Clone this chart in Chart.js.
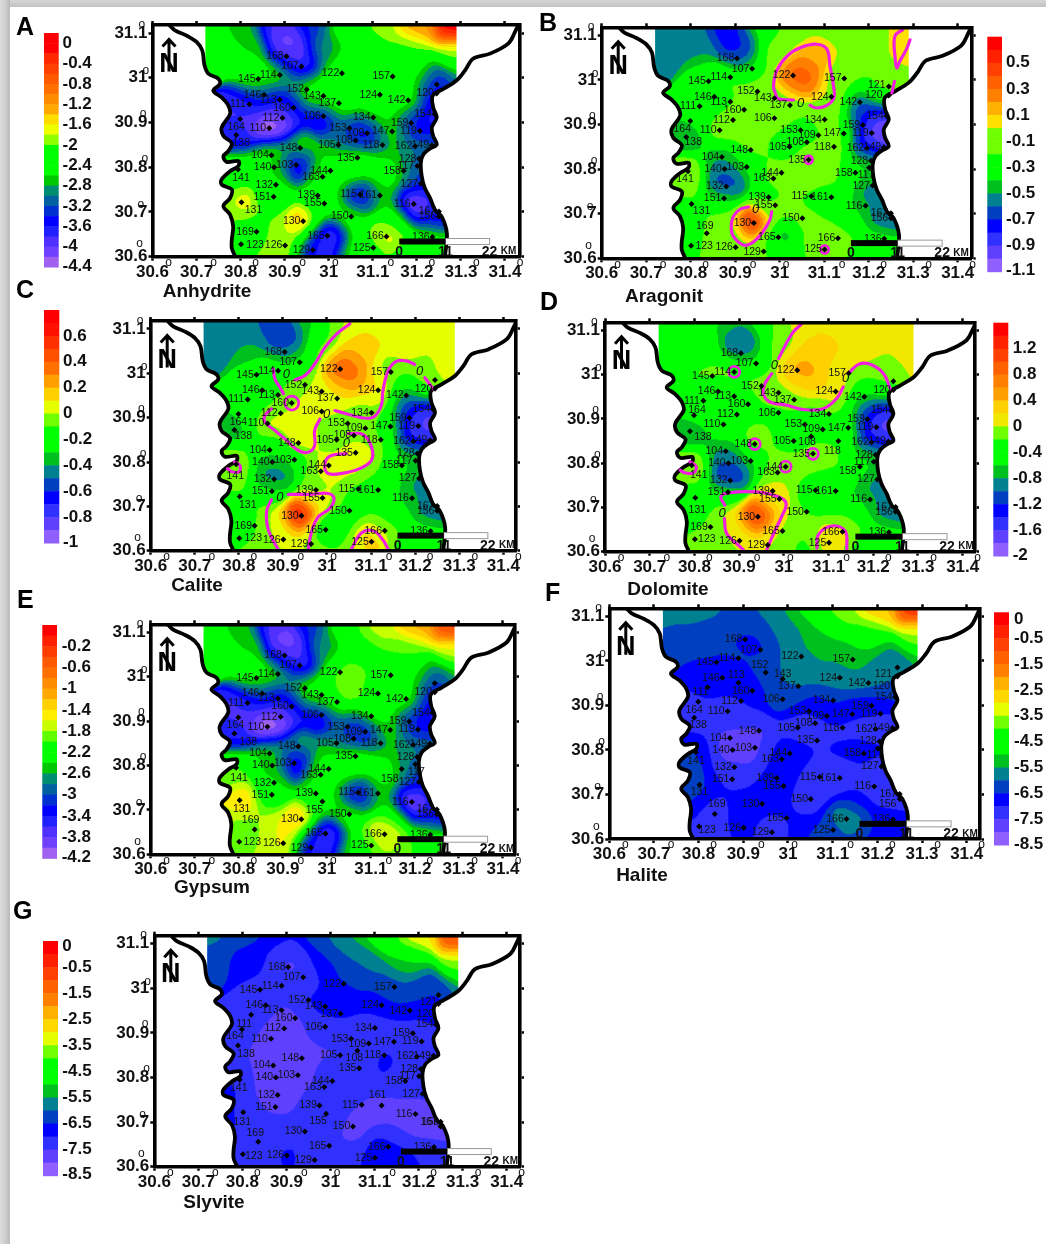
<!DOCTYPE html>
<html><head><meta charset="utf-8">
<script src="https://cdn.jsdelivr.net/npm/chart.js@4"></script>
<style>
html,body{margin:0;padding:0;background:#fff;width:1046px;height:1244px;overflow:hidden}
#top{position:absolute;left:0;top:0;width:1046px;height:7px;background:linear-gradient(to bottom,#d6d6d6,#c2c2c2)}
#left{position:absolute;left:0;top:0;width:10px;height:1244px;background:linear-gradient(to right,#dcdcdc,#cfcfcf 50%,#b9b9b9)}
canvas{position:absolute;left:0;top:0;filter:blur(.35px)}
</style></head><body><div id="top"></div><div id="left"></div>
<script>
// ---------- wells ----------
const wellIds=[168,107,122,157,145,114,152,143,137,124,142,121,120,
146,113,160,111,164,112,110,138,106,134,159,154,119,
153,109,147,108,105,118,162,149,148,104,135,128,117,
103,140,141,144,163,158,132,127,115,161,151,139,155,
131,116,167,156,150,130,169,165,166,136,123,126,129,125];
const wellX=[30.904,30.938,31.03,31.145,30.84,30.889,30.95,30.988,31.023,31.116,31.18,31.245,31.245,
30.853,30.889,30.92,30.82,30.799,30.895,30.865,30.79,30.988,31.101,31.187,31.24,31.207,
31.047,31.087,31.144,31.061,31.022,31.122,31.196,31.234,30.935,30.87,31.065,31.205,31.201,
30.926,30.876,30.794,31.004,30.986,31.17,30.88,31.209,31.071,31.116,30.875,30.975,30.99,
30.802,31.193,31.25,31.25,31.051,30.942,30.836,30.997,31.131,31.235,30.801,30.901,30.964,31.101];
const wellY=[31.048,31.025,31.01,31.003,30.997,31.006,30.974,30.959,30.943,30.962,30.95,30.985,30.965,
30.962,30.951,30.933,30.941,30.908,30.91,30.887,30.872,30.914,30.911,30.899,30.919,30.881,
30.887,30.876,30.88,30.86,30.85,30.85,30.847,30.849,30.843,30.827,30.821,30.819,30.803,
30.805,30.8,30.795,30.792,30.779,30.792,30.761,30.763,30.739,30.737,30.734,30.737,30.719,
30.722,30.718,30.701,30.69,30.69,30.679,30.656,30.647,30.645,30.644,30.628,30.625,30.615,30.62];
// extra control readings where no well exists (north edge, south edge, gaps)
const extraX=[30.72,30.80,30.88,30.96,31.04,31.12,31.20,31.29,30.74,30.82,30.91,30.99,31.08,31.18,31.29,31.29,30.86,30.99,31.05,31.18,31.26,31.05,31.21,30.88,31.05,31.12,30.78,31.15,30.76,30.76];
const extraY=[31.12,31.12,31.12,31.12,31.12,31.12,31.12,31.12,31.06,31.06,31.08,31.06,31.06,31.06,31.05,30.99,30.60,30.60,30.60,30.60,30.61,31.00,31.00,30.66,30.78,30.79,30.67,30.68,30.77,30.71];
// ---------- coast ----------
const westX=[30.640,30.651,30.678,30.700,30.713,30.718,30.727,30.749,30.753,30.738,30.757,30.772,30.776,30.757,30.761,30.780,30.772,30.761,30.768,30.795,30.795,30.776,30.757,30.757,30.780,30.776,30.761,30.776,30.783,30.780,30.780,30.787];
const westY=[31.116,31.106,31.094,31.080,31.061,31.028,31.009,30.998,30.986,30.971,30.956,30.938,30.919,30.889,30.870,30.854,30.836,30.825,30.812,30.814,30.803,30.791,30.773,30.761,30.750,30.731,30.713,30.694,30.668,30.638,30.619,30.602];
const eastX=[31.264,31.268,31.256,31.241,31.230,31.218,31.211,31.209,31.215,31.230,31.245,31.237,31.234,31.245,31.237,31.236,31.260,31.290,31.309,31.328,31.366,31.408,31.423,31.430];
const eastY=[30.602,30.653,30.690,30.705,30.731,30.754,30.780,30.810,30.829,30.842,30.851,30.870,30.889,30.911,30.934,30.960,30.975,30.994,31.016,31.043,31.054,31.077,31.103,31.118];
// ---------- mineral saturation values at wells ----------
const anhydriteValues=[-3.9,-4.0,-2.3,-2.3,-2.1,-2.3,-2.3,-2.3,-2.1,-2.3,-2.3,-3.5,-3.8,
-3.3,-3.7,-3.3,-3.7,-3.9,-4.3,-4.5,-3.6,-3.9,-2.3,-3.2,-3.7,-4.0,
-3.0,-4.1,-2.4,-3.8,-2.8,-2.9,-2.8,-3.1,-2.4,-2.3,-1.7,-2.7,-3.7,
-4.1,-2.7,-2.3,-2.4,-2.5,-2.4,-2.4,-3.4,-4.0,-2.6,-2.3,-2.4,-2.4,
-1.6,-4.3,-3.7,-3.6,-2.3,-1.3,-2.2,-4.0,-1.4,-2.3,-2.2,-1.8,-3.3,-2.3];
const anhydriteExtra=[-2.3,-2.7,-3.8,-3.3,-2.3,-1.9,-1.2,0,-2.3,-2.6,-4.2,-2.9,-2.3,-2.1,-1.9,-2.9,-1.9,-4.0,-2.4,-2.3,-2.3,-2.3,-2.4,-1.9,-2.4,-2.3,-2.1,-2.3,-2.3,-1.9];
const aragonitValues=[-.8,-.3,.35,-.1,-.15,-.1,-.1,-.05,-.1,0,-.65,-.05,-.3,
-.35,-.25,-.1,-.3,-.35,-.1,-.1,-.55,-.1,-.1,-.65,-.95,-1.15,
-.3,-.25,-.15,-.2,-.35,-.1,-.85,-1.0,-.1,-.45,.02,-.3,-.35,
-.4,-.6,-.05,-.15,-.15,-.3,-.85,-.65,-.25,-.25,-.2,-.35,-.1,
-.2,-.45,-.65,-.62,-.15,.6,-.2,-.55,-.1,-.3,-.2,-.1,-.1,.03];
const aragonitExtra=[-.55,-.55,-.75,-.3,-.12,-.1,-.1,.1,-.55,-.52,-.72,-.12,.15,-.1,.05,-.1,-.2,-.25,-.25,-.3,-.3,.35,-.2,-.1,-.1,-.15,-.3,-.3,-.1,-.3];
const caliteValues=[-.55,-.2,.42,-.05,-.2,-.1,-.02,.05,.1,.15,-.45,.03,-.1,
-.25,-.15,.04,-.2,-.3,.02,.03,-.35,0,-.02,-.6,-.85,-.95,
-.08,-.1,-.25,-.05,-.1,-.05,-.8,-.8,.15,-.2,.2,-.25,-.3,
-.3,-.4,.02,.05,.02,-.2,-.6,-.5,-.15,-.15,-.1,-.1,.08,
-.1,-.35,-.5,-.5,-.15,.7,-.15,-.4,-.02,-.2,-.1,.02,.02,.2];
const caliteExtra=[-.45,-.45,-.55,-.3,0,.05,.05,.05,-.45,-.4,-.6,-.1,.15,.05,.05,.1,-.05,-.05,-.05,-.2,-.2,.3,-.05,.05,.03,-.1,-.15,-.2,-.05,-.15];
const dolomiteValues=[-1.1,-.4,.5,0,-.1,.03,-.05,-.1,-.05,.2,-.7,-.1,-.3,
-.5,-.4,-.3,-.3,-.4,-.3,-.35,-.9,-.3,-.2,-1.0,-1.6,-2.1,
-.4,-.3,-.3,-.3,-.5,-.2,-1.3,-1.6,.05,-.7,.1,-.5,-.5,
-.7,-1.15,.1,.05,-.1,-.4,-1.6,-1.05,-.7,-.6,-.1,.05,.1,
-.35,-.7,-1.0,-1.0,-.15,1.3,-.2,-.1,.1,-.4,-.1,0,.1,.15];
const dolomiteExtra=[-.35,-.35,-.65,-.2,.05,.1,.1,.1,-.35,-.4,-1.05,-.1,.3,.1,.1,.1,-.05,-.15,-.3,-.4,-.4,.4,-.1,.1,-.1,-.15,-.35,-.3,-.2,-.3];
const gypsumValues=[-3.6,-3.8,-2.0,-2.1,-1.95,-2.2,-2.1,-2.2,-1.8,-2.1,-2.1,-3.1,-3.4,
-3.0,-3.5,-3.2,-3.6,-3.7,-4.1,-4.3,-3.4,-3.7,-1.8,-3.0,-3.5,-3.7,
-2.9,-3.8,-2.2,-3.5,-2.6,-2.7,-2.6,-2.9,-2.5,-2.3,-1.6,-2.4,-3.5,
-3.9,-2.5,-2.0,-2.2,-2.3,-2.3,-2.3,-3.2,-3.8,-2.4,-2.2,-2.3,-2.3,
-1.3,-4.1,-3.5,-3.4,-2.1,-1.2,-1.9,-3.8,-1.3,-2.1,-2.0,-1.5,-3.2,-2.1];
const gypsumExtra=[-2.1,-2.5,-3.6,-3.1,-2.1,-1.7,-1.1,-.3,-2.1,-2.4,-4.1,-2.7,-2.1,-2.0,-1.7,-2.6,-1.7,-3.8,-2.3,-2.0,-2.1,-1.9,-2.2,-1.6,-2.2,-2.1,-1.9,-2.1,-2.0,-1.6];
const haliteValues=[-6.6,-6.6,-5.6,-5.3,-6.5,-6.4,-6.2,-5.9,-6.0,-5.7,-5.7,-6.0,-6.0,
-6.8,-6.8,-6.8,-6.8,-7.1,-7.0,-7.4,-7.2,-6.2,-6.2,-6.8,-6.3,-7.0,
-6.8,-6.9,-7.0,-7.3,-7.4,-7.1,-7.3,-7.4,-7.5,-7.5,-7.0,-6.9,-6.9,
-7.6,-7.7,-6.7,-6.5,-6.9,-6.9,-7.6,-7.2,-7.4,-7.4,-6.9,-6.9,-6.9,
-6.5,-7.3,-7.4,-7.1,-7.3,-6.8,-7.4,-6.9,-5.0,-6.7,-7.2,-6.8,-7.4,-6.6];
const haliteExtra=[-5.7,-5.8,-6.0,-5.7,-4.9,-3.7,-2.5,-.5,-6.1,-6.2,-6.4,-5.8,-5.0,-4.3,-3.6,-5.3,-7.1,-7.0,-6.4,-6.6,-6.7,-5.5,-5.6,-6.8,-7.0,-6.9,-6.7,-6.8,-5.9,-5.9];
const slyviteValues=[-7.6,-7.5,-6.5,-6.1,-7.1,-7.3,-6.9,-6.8,-6.9,-6.7,-6.6,-6.4,-6.9,
-7.3,-7.6,-7.6,-7.3,-7.3,-7.7,-7.7,-7.5,-7.3,-7.3,-7.4,-6.8,-7.6,
-7.4,-7.5,-7.4,-7.4,-7.6,-6.6,-7.4,-7.5,-7.7,-7.8,-7.3,-7.3,-7.3,
-7.6,-8.1,-7.2,-6.9,-7.7,-7.4,-7.9,-7.4,-7.5,-7.8,-7.4,-7.2,-6.8,
-7.2,-7.8,-7.8,-7.7,-7.7,-7.3,-7.3,-7.4,-6.6,-7.3,-7.4,-6.7,-7.6,-7.0];
const slyviteExtra=[-5.8,-6.3,-6.6,-6.2,-5.5,-4.3,-3.0,-.8,-6.4,-6.8,-7.5,-6.5,-5.9,-5.0,-3.7,-5.6,-7.3,-7.3,-7.0,-6.9,-7.2,-6.5,-6.3,-7.3,-7.3,-7.0,-7.0,-7.6,-6.8,-6.8];
// ---------- zero contours: flat x,y lists ----------
const aragonitZero=[
[31.031,30.955,30.997,30.958,30.990,30.971,30.986,30.986,30.993,31.020,31.016,31.053,31.046,31.072,31.083,31.080,31.106,31.069,31.113,31.031,31.121,30.986,31.122,30.960,31.106,30.943,31.083,30.937,31.068,30.943],
[30.930,30.715,30.911,30.710,30.896,30.694,30.891,30.671,30.896,30.649,30.918,30.630,30.937,30.634,30.960,30.656,30.978,30.686,30.982,30.705],
[31.276,31.112,31.261,31.102,31.257,31.084,31.259,31.054,31.263,31.027,31.270,31.042,31.285,31.069,31.293,31.090],
[31.258,30.997,31.252,30.971]];
const caliteZero=[
[31.052,31.112,31.021,31.088,30.995,31.058,30.972,31.021,30.950,30.995,30.927,30.985],
[30.878,31.010,30.882,30.987,30.893,30.969,30.901,30.954],
[31.018,30.916,31.044,30.909,31.078,30.900,31.105,30.901,31.123,30.927,31.127,30.961,31.139,31.006,31.157,31.027,31.180,31.028,31.199,31.020],
[31.222,30.990,31.241,30.965],
[30.984,30.897,30.972,30.871,30.972,30.837,30.957,30.822,30.935,30.826,30.908,30.849,30.882,30.871,30.859,30.890,30.859,30.905,30.874,30.920],
[31.048,30.864,31.082,30.862,31.101,30.834,31.101,30.804,31.074,30.785,31.037,30.775,31.003,30.774,30.995,30.793,31.006,30.813,31.044,30.819],
[30.912,30.727,30.961,30.727,31.003,30.729,31.016,30.718,31.006,30.695,30.980,30.676,30.965,30.643,30.957,30.601],
[30.874,30.715,30.863,30.688,30.867,30.646,30.889,30.603],
[31.055,30.603,31.078,30.640,31.105,30.645,31.127,30.624,31.139,30.603],
[30.790,30.800,30.802,30.793,30.801,30.778,30.784,30.778,30.774,30.785]];
const dolomiteZero=[
[31.040,31.115,31.018,31.092,30.988,31.036],
[30.973,31.002,30.958,30.980,30.954,30.957,30.969,30.938,31.006,30.931,31.044,30.921,31.088,30.923,31.118,30.946,31.133,30.972],
[31.144,31.002,31.167,31.023,31.193,31.023,31.223,31.002,31.238,30.968],
[30.790,30.803,30.804,30.792,30.798,30.778,30.779,30.778,30.768,30.784],
[30.868,30.705,30.859,30.724,30.876,30.733,30.939,30.735,30.988,30.724,31.005,30.709,30.995,30.679,30.977,30.641,30.962,30.605],
[30.867,30.675,30.872,30.641,30.898,30.615,30.909,30.605],
[31.074,30.608,31.077,30.638,31.107,30.658,31.137,30.647,31.141,30.605]];
// small closed zero contours around single wells
const aragonitRings=[135,125], caliteRings=[160], dolomiteRings=[114,148,135,144];
// "0" contour labels, flat x,y
const aragonitZeroLabels=[31.047,30.947,30.946,30.710];
const caliteZeroLabels=[30.908,30.998,30.999,30.907,31.044,30.841,30.893,30.720,31.210,31.004];
const dolomiteZeroLabels=[30.979,31.021,31.138,30.991,30.862,30.686];
// ---------- colour scale tick labels ----------
const anhydriteTicks=[0,-.4,-.8,-1.2,-1.6,-2,-2.4,-2.8,-3.2,-3.6,-4,-4.4];
const aragonitTicks=[.5,.3,.1,-.1,-.3,-.5,-.7,-.9,-1.1];
const caliteTicks=[.6,.4,.2,0,-.2,-.4,-.6,-.8,-1];
const dolomiteTicks=[1.2,.8,.4,0,-.4,-.8,-1.2,-1.6,-2];
const gypsumTicks=[-.2,-.6,-1,-1.4,-1.8,-2.2,-2.6,-3,-3.4,-3.8,-4.2];
const haliteTicks=[0,-.5,-1.5,-2.5,-3.5,-4.5,-5.5,-6.5,-7.5,-8.5];
const slyviteTicks=[0,-.5,-1.5,-2.5,-3.5,-4.5,-5.5,-6.5,-7.5,-8.5];
const mapTicks=[30.6,30.7,30.8,30.9,31,31.1,31.2,31.3,31.4];

// ---------- styles / layout ----------
const cold=['#00c020','#008090','#0040c0','#0000ff','#3030ff','#6040ff','#9060ff'];
const pal23=['#ff0000','#ff0000','#ff2800','#ff4000','#ff5a00','#ff7000','#ff8c00','#ffa800','#ffdd00','#eeff00','#90ff00','#00ff00','#00ff00','#00ff00','#00c800','#008c70','#0060a0','#0030d0','#0000ff','#2020ff','#5030ff','#7040ff','#a060f0'];
const pal22=['#ff0000','#ff2000','#ff3c00','#ff5a00','#ff7000','#ff8c00','#ffa800','#ffd000','#ffee00','#c8ff00','#60ff00','#00ff00','#00ff00','#00c800','#008c70','#0060a0','#0030d0','#0000ff','#2020ff','#5030ff','#7040ff','#a060f0'];
const palB=['#ff0000','#ff2000','#ff4000','#ff6000','#ff8000','#ffb000','#ffe000','#70ff00','#70ff00','#00ff00','#00ff00',...cold];
const palC=['#ff0000','#ff1000','#ff3000','#ff5000','#ff7000','#ffa000','#ffd000','#e6ff00','#70ff00','#00ff00','#00ff00',...cold];
const palD=['#ff0000','#ff2000','#ff4000','#ff6000','#ff8000','#ffa000','#ffd000','#f0e800','#70ff00','#00ff00','#00ff00',...cold];
const palF=['#ff0000','#ff2000','#ff4000','#ff6000','#ff8000','#ffb000','#ffd800','#e6ff00','#70ff00','#00ff00','#00ff00',...cold];
const HOT='#f21ee0';
const panels=[
{letter:'A',lx:16,ly:35,title:'Anhydrite',tx:207,ty:297,L:152.5,X14:505,R:520,T:25,B:256.7,
 vals:anhydriteValues,extra:anhydriteExtra,pal:pal23,top:.2,step:.2,ticks:anhydriteTicks,bar:[44,58.7,33,267],tickX:62.5,
 hide:[121],off:{164:[-4,8],138:[5,8],141:[3,9],131:[12,8],123:[14,1]}},
{letter:'B',lx:539,ly:31,title:'Aragonit',tx:664,ty:302,L:601.7,X14:957.7,R:971.7,T:27.3,B:258.3,
 vals:aragonitValues,extra:aragonitExtra,pal:palB,top:.7,step:.1,ticks:aragonitTicks,bar:[987.3,1002,36.7,271.7],tickX:1006,
 contours:aragonitZero,rings:aragonitRings,ringR:4,zeros:aragonitZeroLabels,hide:[],
 off:{164:[-8,8],138:[7,5],141:[-3,8],131:[10,7],169:[-2,-7],123:[13,0],121:[-12,-2],120:[-15,0],117:[-3,7]}},
{letter:'C',lx:16,ly:298,title:'Calite',tx:197,ty:591,L:150.7,X14:503.3,R:516,T:321,B:550.7,
 vals:caliteValues,extra:caliteExtra,pal:palC,top:.8,step:.1,ticks:caliteTicks,bar:[44,59.3,310,543],tickX:63,
 contours:caliteZero,rings:caliteRings,ringR:7,zeros:caliteZeroLabels,hide:[121],
 off:{164:[0,8],138:[9,6],141:[-1,12],131:[8,9],123:[14,0]}},
{letter:'D',lx:540,ly:310,title:'Dolomite',tx:668,ty:595,L:605,X14:962.7,R:975,T:322.3,B:551.7,
 vals:dolomiteValues,extra:dolomiteExtra,pal:palD,top:1.6,step:.2,ticks:dolomiteTicks,bar:[993.3,1008.3,322.7,556],tickX:1012.7,
 contours:dolomiteZero,rings:dolomiteRings,ringR:5.5,zeros:dolomiteZeroLabels,hide:[121],
 off:{164:[3,-5],138:[13,6],141:[7,10],131:[2,12],123:[12,0],118:[-6,10],108:[-4,6],158:[-12,4]}},
{letter:'E',lx:17,ly:608,title:'Gypsum',tx:212,ty:893,L:150.7,X14:503,R:515,T:624.3,B:854.3,
 vals:gypsumValues,extra:gypsumExtra,pal:pal22,top:.2,step:.2,ticks:gypsumTicks,bar:[42.3,57,625,858.3],tickX:61.7,hide:[121],
 off:{164:[-3,8],138:[14,9],141:[3,10],131:[2,9],169:[-4,-9],123:[13,0],155:[-8,9],158:[-12,10],117:[1,8]}},
{letter:'F',lx:545,ly:601,title:'Halite',tx:642,ty:881,L:609.3,X14:966.7,R:980,T:608.3,B:839,
 vals:haliteValues,extra:haliteExtra,pal:palF,top:.5,step:.5,ticks:haliteTicks,bar:[994,1009,612.3,845],tickX:1014,lift:-5.5,hide:[],
 off:{111:[-7,5],164:[-4,8],138:[4,7],141:[0,9],131:[0,7],169:[2,-10],123:[8,4],113:[-2,-8],152:[-6,-7],143:[0,-5],117:[-3,7],121:[-14,7],120:[-16,10],156:[-12,5]}},
{letter:'G',lx:13,ly:919,title:'Slyvite',tx:214,ty:1208,L:154.3,X14:506.7,R:520,T:935.7,B:1166.7,
 vals:slyviteValues,extra:slyviteExtra,pal:palF,top:.5,step:.5,ticks:slyviteTicks,bar:[43,58,941,1175.7],tickX:62.3,lift:-8,hide:[],
 off:{111:[-7,9],164:[-7,7],138:[8,9],141:[-1,8],131:[-1,10],169:[-3,-9],123:[11,2],161:[-4,-10],155:[-8,7],108:[-3,7],121:[-10,7],120:[-13,10],156:[-10,-4]}}
];
const W=1046,H=1244,SANS='"Liberation Sans",Arial,sans-serif';
const degDx={'30.6':16,'30.7':17,'30.8':15,'30.9':18,'31':6.5,'31.1':18,'31.2':15,'31.3':15.5,'31.4':15};
const degY={'31.1':[-10.7,-8.7],'31':[-6.7,-6.7],'30.9':[-9.3,-9],'30.8':[-7.7,-8.7],'30.7':[-11.7,-7.3],'30.6':[-13,-12.7]};
const fmt=v=>String(Math.round(v*10)/10);

function hexRGB(h){return [parseInt(h.slice(1,3),16),parseInt(h.slice(3,5),16),parseInt(h.slice(5,7),16)];}
// weighted surface through the readings, banded into the panel's colour cells
function renderField(chart,p){
  const {left,top,right,bottom}=chart.chartArea,xs=chart.scales.x,ys=chart.scales.y;
  const w=Math.ceil(right-left),h=Math.ceil(bottom-top);
  const off=document.createElement('canvas');off.width=w;off.height=h;
  const c=off.getContext('2d'),img=c.createImageData(w,h);
  const px=wellX.concat(extraX),py=wellY.concat(extraY),pv=p.vals.concat(p.extra);
  const sig=.027,s2=2*sig*sig,rgb=p.pal.map(hexRGB),n=px.length;
  for(let j=0;j<h;j++){const y=ys.getValueForPixel(top+j+.5);
    for(let i=0;i<w;i++){const x=xs.getValueForPixel(left+i+.5);
      if(x<30.71||x>31.30)continue;
      let a=0,b=1e-12;for(let k=0;k<n;k++){const dx=x-px[k],dy=y-py[k],g=Math.exp(-(dx*dx+dy*dy)/s2);a+=g*pv[k];b+=g;}
      const v=a/b;let idx=Math.floor((p.top-v)/p.step);idx=Math.max(0,Math.min(rgb.length-1,idx));
      const q=(j*w+i)*4,col=rgb[idx];img.data[q]=col[0];img.data[q+1]=col[1];img.data[q+2]=col[2];img.data[q+3]=255;}}
  c.putImageData(img,0,0);return off;
}
const mapPlugin={id:'mapPlugin',
 beforeDatasetsDraw(chart){
  const p=chart.options.plugins.mapPlugin.panel,ctx=chart.ctx,a=chart.chartArea,xs=chart.scales.x,ys=chart.scales.y;
  if(!p._field)p._field=renderField(chart,p);
  ctx.save();ctx.beginPath();ctx.rect(xs.getPixelForValue(30.72),a.top,xs.getPixelForValue(31.29)-xs.getPixelForValue(30.72),a.bottom-a.top);ctx.clip();
  ctx.beginPath();
  westX.forEach((x,i)=>{const X=xs.getPixelForValue(x),Y=ys.getPixelForValue(westY[i]);i?ctx.lineTo(X,Y):ctx.moveTo(X,Y);});
  ctx.lineTo(xs.getPixelForValue(westX[westX.length-1]),a.bottom);ctx.lineTo(xs.getPixelForValue(eastX[0]),a.bottom);
  eastX.forEach((x,i)=>ctx.lineTo(xs.getPixelForValue(x),ys.getPixelForValue(eastY[i])));
  ctx.lineTo(xs.getPixelForValue(eastX[eastX.length-1]),a.top-2);ctx.lineTo(xs.getPixelForValue(westX[0]),a.top-2);ctx.closePath();ctx.clip();
  ctx.filter='blur(0.6px)';ctx.drawImage(p._field,a.left,a.top);ctx.filter='none';ctx.restore();
 },
 afterDatasetsDraw(chart){
  const p=chart.options.plugins.mapPlugin.panel,ctx=chart.ctx,a=chart.chartArea,xs=chart.scales.x,ys=chart.scales.y;
  ctx.save();ctx.textAlign='center';ctx.textBaseline='middle';
  const meta=chart.getDatasetMeta(0);ctx.font='10.5px '+SANS;ctx.fillStyle='#111';
  wellIds.forEach((id,i)=>{ if(p.hide.includes(id))return;
    const e=meta.data[i],o=p.off[id]||[-11.5,0];ctx.fillText(String(id),e.x+o[0],e.y+o[1]);});
  if(p.zeros){ctx.font='italic 13px '+SANS;ctx.fillStyle='#111';
    for(let i=0;i<p.zeros.length;i+=2)ctx.fillText('0',xs.getPixelForValue(p.zeros[i]),ys.getPixelForValue(p.zeros[i+1]));}
  const x0=xs.getPixelForValue(31.16),x1=xs.getPixelForValue(31.265),x2=xs.getPixelForValue(31.365),yb=ys.getPixelForValue(30.634);
  ctx.fillStyle='#fff';ctx.strokeStyle='#999';ctx.lineWidth=1;ctx.fillRect(x1,yb-3,x2-x1,6);ctx.strokeRect(x1,yb-3,x2-x1,6);
  ctx.fillStyle='#000';ctx.fillRect(x0,yb-3,x1-x0,6);
  const yl=a.bottom-5;ctx.fillStyle='#111';ctx.font='bold 14px '+SANS;
  ctx.fillText('0',x0,yl);ctx.fillText('11',x1,yl);ctx.fillText('22',x2,yl);
  ctx.font='bold 10px '+SANS;ctx.fillText('KM',x2+19,yl);
  const nx=a.left+16.5,ny=a.top+13.5;ctx.strokeStyle='#000';ctx.lineWidth=3;ctx.lineCap='butt';
  ctx.beginPath();ctx.moveTo(nx,ny+2);ctx.lineTo(nx,ny+33);ctx.moveTo(nx-6.5,ny+8);ctx.lineTo(nx,ny+1);ctx.lineTo(nx+6.5,ny+8);ctx.stroke();
  ctx.font='bold 27px '+SANS;ctx.fillStyle='#000';ctx.textBaseline='alphabetic';ctx.fillText('N',nx,ny+33);
  ctx.restore();
 },
 afterDraw(chart){
  const p=chart.options.plugins.mapPlugin.panel,ctx=chart.ctx,xs=chart.scales.x,ys=chart.scales.y,a=chart.chartArea;
  ctx.save();ctx.fillStyle='#111';ctx.textBaseline='middle';
  ctx.font='12px '+SANS;ctx.textAlign='center';
  mapTicks.forEach(t=>{const X=xs.getPixelForValue(t);ctx.fillText('o',X+degDx[fmt(t)],a.bottom+6);
    const d=degY[fmt(t)];if(d)ctx.fillText('o',a.left+d[0],ys.getPixelForValue(t)+d[1]);});
  ctx.fillStyle='#000';ctx.textBaseline='alphabetic';ctx.textAlign='left';ctx.font='bold 25px '+SANS;ctx.fillText(p.letter,p.lx,p.ly);
  ctx.textAlign='center';ctx.font='bold 19px '+SANS;ctx.fillStyle='#111';ctx.fillText(p.title,p.tx,p.ty);
  const [bx0,bx1,by0,by1]=p.bar,n=p.pal.length,ch=(by1-by0)/n;
  p.pal.forEach((c,i)=>{ctx.fillStyle=c;ctx.fillRect(bx0,by0+i*ch,bx1-bx0,ch+.5);});
  ctx.textAlign='left';ctx.textBaseline='middle';ctx.font='bold 17px '+SANS;ctx.fillStyle='#111';
  p.ticks.forEach(t=>{let Y=by0+(p.top-t)/p.step*ch;if(t===0&&p.lift)Y+=p.lift;
    if(Y>by1-1)Y=by1-1;ctx.fillText(fmt(t),p.tickX,Y);});
  ctx.restore();
 }};
Chart.register(mapPlugin);
const axisBase={type:'linear',grid:{drawOnChartArea:false,color:'#000',tickColor:'#000',tickWidth:2.5,tickLength:4},border:{display:true,color:'#000',width:3.6,z:1}};
function toPts(flat){const o=[];for(let i=0;i<flat.length;i+=2)o.push({x:flat[i],y:flat[i+1]});return o;}
panels.forEach(p=>{
  const cv=document.createElement('canvas');cv.width=W;cv.height=H;cv.style.width=W+'px';cv.style.height=H+'px';document.body.appendChild(cv);
  const xMax=30.6+(p.R-p.L)/((p.X14-p.L)/.8);
  const wells={label:'wells',data:wellX.map((x,i)=>({x,y:wellY[i]})),pointStyle:'rectRot',pointRadius:3,pointBackgroundColor:'#000',pointBorderWidth:0,showLine:false,order:0};
  const coast=(xa,ya)=>({label:'coast',data:xa.map((x,i)=>({x,y:ya[i]})),showLine:true,borderColor:'#000',borderWidth:3.8,pointRadius:0,tension:.35,borderCapStyle:'round',borderJoinStyle:'round',order:2});
  const ds=[wells,coast(westX,westY),coast(eastX,eastY)];
  (p.contours||[]).forEach(c=>ds.push({label:'zero',data:toPts(c),showLine:true,borderColor:HOT,borderWidth:3.2,pointRadius:0,tension:.4,borderCapStyle:'round',order:1}));
  if(p.rings)ds.push({label:'zero rings',data:p.rings.map(id=>{const i=wellIds.indexOf(id);return {x:wellX[i],y:wellY[i]};}),showLine:false,pointRadius:p.ringR,pointBackgroundColor:'rgba(0,0,0,0)',pointBorderColor:HOT,pointBorderWidth:2.8,order:1});
  new Chart(cv,{type:'scatter',data:{datasets:ds},options:{
    responsive:false,animation:false,events:[],
    layout:{padding:{left:p.L-50,top:p.T,right:W-p.R,bottom:H-p.B-32}},
    plugins:{legend:{display:false},tooltip:{enabled:false},title:{display:false},mapPlugin:{panel:p}},
    scales:{
     x:{...axisBase,position:'bottom',min:30.6,max:xMax,afterFit(s){s.height=32;},afterBuildTicks(s){s.ticks=mapTicks.map(value=>({value}));},
        ticks:{callback:fmt,font:{family:SANS,size:17,weight:'bold'},color:'#111',padding:1,maxRotation:0,autoSkip:false}},
     y:{...axisBase,position:'left',min:30.6,max:30.6+.518,afterFit(s){s.width=50;},
        afterBuildTicks(s){s.ticks=mapTicks.slice(0,6).map(value=>({value}));},
        ticks:{callback:fmt,font:{family:SANS,size:17,weight:'bold'},color:'#111',padding:1,autoSkip:false}},
     x2:{...axisBase,axis:'x',position:'top',min:30.6,max:xMax,afterFit(s){s.height=0;},afterBuildTicks(s){s.ticks=mapTicks.map(value=>({value}));},ticks:{display:false}},
     y2:{...axisBase,axis:'y',position:'right',min:30.6,max:30.6+.518,afterFit(s){s.width=0;},afterBuildTicks(s){s.ticks=mapTicks.slice(0,6).map(value=>({value}));},ticks:{display:false}}
    }}});
});
</script></body></html>
